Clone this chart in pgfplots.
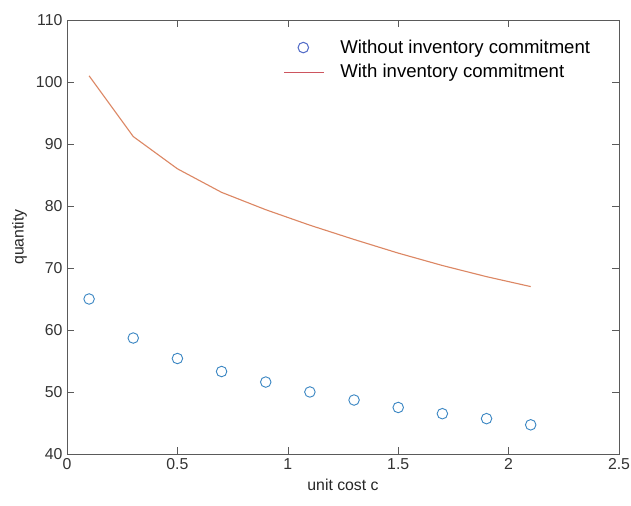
\documentclass[border=0pt]{standalone}
\usepackage{pgfplots}
\pgfplotsset{compat=1.18}
\usepackage{fontspec}
\setmainfont{Liberation Sans}
\definecolor{mblue}{RGB}{60,135,195}
\definecolor{lblue}{RGB}{85,110,200}
\definecolor{morange}{RGB}{220,135,100}
\definecolor{mred}{RGB}{205,85,95}
\definecolor{axgray}{RGB}{90,90,90}
\pgfplotsset{
  circlelegend/.style={legend image code/.code={\draw[lblue, line width=0.8pt, mark size=4pt, mark options={draw=lblue}] plot[mark=o] coordinates {(14.5pt,0pt)};}},
  linelegend/.style={legend image code/.code={\draw[mred, line width=1.1pt] (0pt,0pt) -- (30pt,0pt);}},
}
\begin{document}
\begin{tikzpicture}
\begin{axis}[
  scale only axis,
  width=419pt, height=329.4pt,
  xmin=0, xmax=2.5, ymin=40, ymax=110,
  xtick={0,0.5,1,1.5,2,2.5},
  ytick={40,50,...,110},
  xticklabels={0,0.5,1,1.5,2,2.5},
  /pgf/number format/assume math mode=true,
  tick label style={font=\fontsize{12}{14}\selectfont, text=black!80},
  label style={font=\fontsize{12}{14}\selectfont, text=black!85},
  xlabel={unit cost c},
  ylabel={quantity},
  axis line style={axgray},
  tick style={axgray},
  tick align=inside,
  major tick length=5pt,
  legend style={draw=none, fill=none, at={(0.96,0.967)}, anchor=north east,
    font=\fontsize{14.1}{17}\selectfont, row sep=3pt, column sep=10pt},
  legend cell align=left,
  clip=false,
]
\coordinate (bl) at (rel axis cs:-0.1214,-0.1198);
\coordinate (tr) at (rel axis cs:1.0217,1.0461);
\addplot[only marks, mark=o, mark size=4pt, draw=mblue, mark options={line width=0.7pt}, circlelegend]
coordinates {(0.1,65.0) (0.3,58.7) (0.5,55.4) (0.7,53.3) (0.9,51.6) (1.1,50.0) (1.3,48.7) (1.5,47.5) (1.7,46.5) (1.9,45.7) (2.1,44.7)};
\addlegendentry{Without inventory commitment}
\addplot[morange, line width=0.85pt, no marks, linelegend]
coordinates {(0.1,101.0) (0.3,91.2) (0.5,86.0) (0.7,82.2) (0.9,79.4) (1.1,76.9) (1.3,74.6) (1.5,72.4) (1.7,70.4) (1.9,68.6) (2.1,67.0)};
\addlegendentry{With inventory commitment}
\end{axis}
\pgfresetboundingbox
\useasboundingbox (bl) rectangle (tr);
\end{tikzpicture}
\end{document}
